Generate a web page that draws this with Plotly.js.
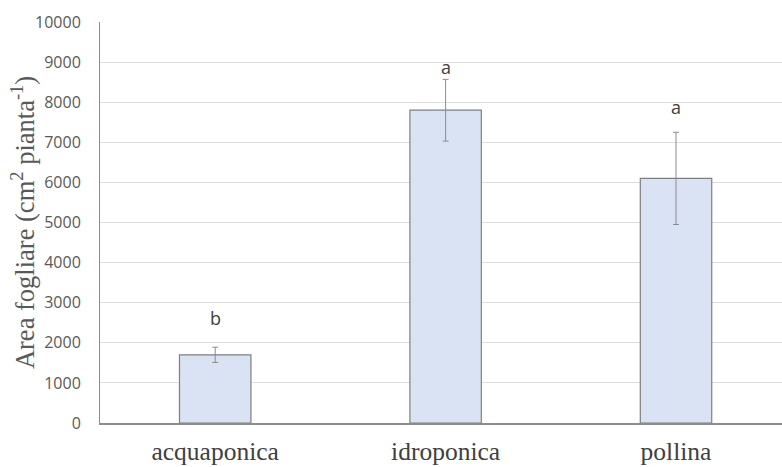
<!DOCTYPE html>
<html>
<head>
<meta charset="utf-8">
<script src="https://cdn.plot.ly/plotly-3.0.1.min.js"></script>
<style>html,body{margin:0;padding:0;background:#fff;}#chart{width:782px;height:467px;}</style>
</head>
<body>
<div id="chart"></div>
<script>
const categories = ["acquaponica", "idroponica", "pollina"];
const values = [1700, 7800, 6100];
const errors = [190, 770, 1150];
const letters = ["b", "a", "a"];
const letterY = [2620, 8870, 7880];
const yTicks = [0, 1000, 2000, 3000, 4000, 5000, 6000, 7000, 8000, 9000, 10000];
const yTitle = "Area fogliare (cm<sup>2</sup> pianta<sup>-1</sup>)";

const trace = {
  type: "bar",
  x: categories,
  y: values,
  width: 0.31,
  marker: {color: "#dae3f3", line: {color: "#7f7f7f", width: 1.2}},
  error_y: {type: "data", array: errors, visible: true, color: "#8c8c8c", thickness: 1, width: 3}
};

const annotations = categories.map((c, i) => ({
  x: c, y: letterY[i], xref: "x", yref: "y", text: letters[i], showarrow: false,
  font: {family: "Open Sans, sans-serif", size: 18, color: "#404040"}
}));
annotations.push({
  xref: "paper", yref: "paper", x: -0.1135, y: 0.5, xanchor: "center", yanchor: "middle",
  text: yTitle, textangle: -90, showarrow: false,
  font: {family: "Liberation Serif, serif", size: 26.5, color: "#595959"}
});

const layout = {
  width: 782, height: 467,
  margin: {l: 100, r: 0, t: 22, b: 44},
  paper_bgcolor: "#fff", plot_bgcolor: "#fff",
  showlegend: false,
  bargap: 0,
  xaxis: {
    type: "category",
    range: [-0.5, 2.46],
    showgrid: false,
    showline: true, linecolor: "#8c8c8c", linewidth: 1.5,
    ticks: "", ticklabelstandoff: 5,
    automargin: false,
    tickfont: {family: "Liberation Serif, serif", size: 25.5, color: "#404040"}
  },
  yaxis: {
    range: [0, 10000],
    tickvals: yTicks,
    ticktext: yTicks.map(String),
    showgrid: true, gridcolor: "#dedede", gridwidth: 1,
    zeroline: false,
    showline: true, linecolor: "#8c8c8c", linewidth: 1,
    ticks: "", ticklabelstandoff: 15,
    tickfont: {family: "Open Sans, sans-serif", size: 16, color: "#595959"},
    automargin: false
  },
  annotations: annotations
};

Plotly.newPlot("chart", [trace], layout, {staticPlot: true, displayModeBar: false});
</script>
</body>
</html>
